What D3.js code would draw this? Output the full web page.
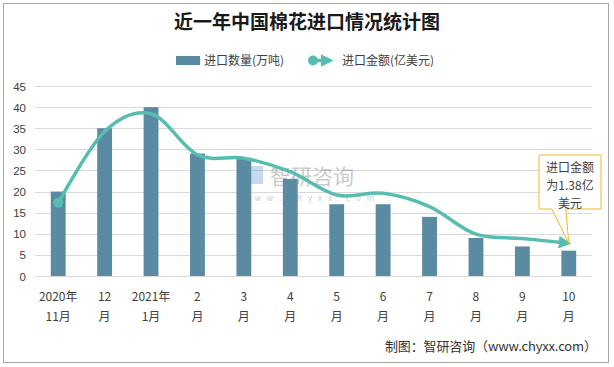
<!DOCTYPE html>
<html><head><meta charset="utf-8">
<script src="https://cdn.jsdelivr.net/npm/d3@7"></script>
<style>
html,body{margin:0;padding:0;background:#fff;}
text{font-family:"Noto Sans CJK SC","Noto Sans",sans-serif;}
</style></head>
<body><svg id="c" width="614" height="367"></svg>
<script>
const categories = [["2020年","11月"],["12","月"],["2021年","1月"],["2","月"],["3","月"],["4","月"],["5","月"],["6","月"],["7","月"],["8","月"],["9","月"],["10","月"]];
const volume = [20, 35, 40, 29, 28, 23, 17, 17, 14, 9, 7, 6];            // 进口数量(万吨)
const value = [3.08, 6.08, 6.83, 5.10, 4.96, 4.39, 3.41, 3.48, 2.92, 1.76, 1.58, 1.38]; // 进口金额(亿美元)
const yTicks = [0, 5, 10, 15, 20, 25, 30, 35, 40, 45];
const title = "近一年中国棉花进口情况统计图";
const legendLabels = ["进口数量(万吨)", "进口金额(亿美元)"];
const calloutLines = ["进口金额", "为1.38亿", "美元"];
const source = "制图：智研咨询（www.chyxx.com）";

const svg = d3.select("#c");
const W = 614, H = 367;
const barColor = "#5b8ba2", lineColor = "#58bdb1", txt = "#404040";

svg.append("rect").attr("x",3.5).attr("y",3.5).attr("width",W-9).attr("height",H-8)
  .attr("fill","#fff").attr("stroke","#a6a6a6").attr("stroke-width",1);

const keys = categories.map((d,i)=>i);
const x = d3.scaleBand().domain(keys).range([35, 592]).paddingInner(0.68).paddingOuter(0.34);
const y = d3.scaleLinear().domain([0,45]).range([276, 86]);
const y2 = d3.scaleLinear().domain([0,8]).range([276, 86]);

// title
svg.append("text").attr("x",307).attr("y",29).attr("text-anchor","middle")
  .attr("font-size",19).attr("font-weight","bold").attr("fill","#1a1a1a").text(title);

// grid
const yAxis = d3.axisLeft(y).tickValues(yTicks).tickSize(0).tickPadding(0);
svg.append("g").selectAll("line").data(yTicks).join("line")
  .attr("x1",35).attr("x2",592).attr("y1",d=>Math.round(y(d))+0.5).attr("y2",d=>Math.round(y(d))+0.5)
  .attr("stroke","#d9d9d9").attr("stroke-width",1);
const ga = svg.append("g").attr("transform","translate(26,0)").call(yAxis);
ga.select(".domain").remove();
ga.selectAll("text").attr("font-size",11.5).attr("fill",txt).attr("dy","0.35em")
  .style("font-family","'Liberation Sans','Noto Sans',sans-serif");

// watermark
const wm = svg.append("g").attr("opacity",0.45);
wm.append("rect").attr("x",248).attr("y",166).attr("width",15).attr("height",18).attr("fill","#7fb0d8");
wm.append("text").attr("x",270).attr("y",184).attr("font-size",21).attr("fill","#8a8a8a").text("智研咨询");
wm.append("text").attr("x",242).attr("y",201).attr("font-size",8).attr("letter-spacing",6).attr("fill","#8a8a8a").text("www.chyxx.com");

// bars
svg.append("g").selectAll("rect").data(volume).join("rect")
  .attr("x",(d,i)=>x(i)).attr("width",x.bandwidth())
  .attr("y",d=>y(d)).attr("height",d=>y(0)-y(d)).attr("fill",barColor);

// line
const defs = svg.append("defs");
defs.append("marker").attr("id","arr").attr("viewBox","0 0 10 10").attr("refX",8).attr("refY",5)
  .attr("markerWidth",3.6).attr("markerHeight",3.6).attr("orient","auto").attr("markerUnits","strokeWidth")
  .append("path").attr("d","M0,0 L10,5 L0,10 Z").attr("fill",lineColor);
const pts = value.map((v,i)=>[x(i)+x.bandwidth()/2, y2(v)]);
svg.append("path").attr("d", d3.line().curve(d3.curveCardinal.tension(0))(pts))
  .attr("fill","none").attr("stroke",lineColor).attr("stroke-width",3.5).attr("marker-end","url(#arr)");
svg.append("circle").attr("cx",pts[0][0]).attr("cy",pts[0][1]).attr("r",5).attr("fill",lineColor);

// x labels
const xl = svg.append("g");
categories.forEach((c,i)=>{
  const cx = x(i)+x.bandwidth()/2;
  c.forEach((s,j)=>{
    xl.append("text").attr("x",cx).attr("y",301+j*20).attr("text-anchor","middle")
      .attr("font-size",12).attr("fill",txt).text(s);
  });
});

// legend
svg.append("rect").attr("x",176).attr("y",56).attr("width",24).attr("height",9).attr("fill",barColor);
svg.append("text").attr("x",204).attr("y",65).attr("font-size",12).attr("fill",txt).text(legendLabels[0]);
svg.append("line").attr("x1",313).attr("x2",331).attr("y1",60.5).attr("y2",60.5)
  .attr("stroke",lineColor).attr("stroke-width",3.5).attr("marker-end","url(#arr)");
svg.append("circle").attr("cx",313).attr("cy",60.5).attr("r",5).attr("fill",lineColor);
svg.append("text").attr("x",342).attr("y",65).attr("font-size",12).attr("fill",txt).text(legendLabels[1]);

// callout
const tip = pts[pts.length-1];
const bx0 = 539, bx1 = 601, by0 = 155, by1 = 209;
svg.append("path")
  .attr("d",`M${bx0},${by0} H${bx1} V${by1} H${tip[0]-3} L${tip[0]},${tip[1]} L${tip[0]-17},${by1} H${bx0} Z`)
  .attr("fill","#fff").attr("stroke","#f2b928").attr("stroke-width",1);
calloutLines.forEach((s,j)=>{
  svg.append("text").attr("x",(bx0+bx1)/2).attr("y",172+j*18).attr("text-anchor","middle")
    .attr("font-size",12).attr("fill",txt).text(s);
});

// source
svg.append("text").attr("x",597).attr("y",351).attr("text-anchor","end")
  .attr("font-size",13).attr("fill","#333").attr("textLength",212).attr("lengthAdjust","spacing").text(source);
</script></body></html>
